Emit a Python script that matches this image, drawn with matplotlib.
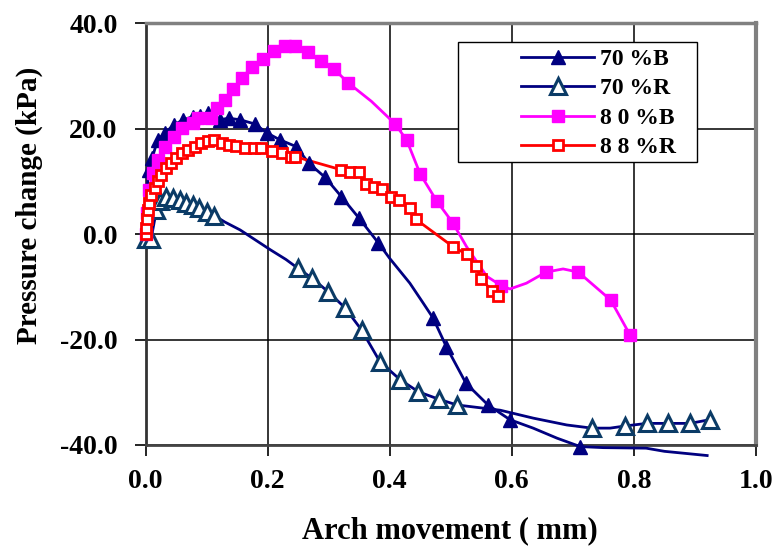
import numpy as np
import matplotlib
matplotlib.use("Agg")
import matplotlib.pyplot as plt
from matplotlib.patches import Rectangle

plt.rcParams['font.family'] = ['Liberation Serif', 'DejaVu Serif']
plt.rcParams['font.weight'] = 'bold'
plt.rcParams['axes.unicode_minus'] = False

# 70 %B : marker points and extra points on the drawn curve only
b70_x = [0.000, 0.006, 0.011, 0.020, 0.032, 0.046, 0.062, 0.078, 0.090, 0.103,
         0.122, 0.136, 0.155, 0.179, 0.199, 0.220, 0.247, 0.267, 0.294, 0.321,
         0.350, 0.381, 0.471, 0.493, 0.525, 0.561, 0.597, 0.712]
b70_y = [-0.8, 12.2, 14.5, 17.9, 19.2, 20.7, 21.7, 22.3, 22.5, 23.0,
         21.7, 22.0, 21.7, 20.9, 19.2, 17.9, 16.6, 13.5, 10.8, 7.1,
         3.0, -1.6, -15.9, -21.4, -28.3, -32.4, -35.2, -40.3]
b70_line_x = [0.001, 0.002, 0.400, 0.433, 0.455, 0.635, 0.674, 0.750, 0.820, 0.850, 0.920]
b70_line_y = [4.0, 8.4, -4.6, -9.3, -13.1, -36.8, -38.7, -40.5, -40.6, -41.2, -42.0]

# 70 %R
r70_x = [0.000, 0.009, 0.018, 0.023, 0.034, 0.045, 0.056, 0.067, 0.078, 0.088,
         0.100, 0.113, 0.250, 0.272, 0.299, 0.327, 0.354, 0.384, 0.417, 0.447,
         0.480, 0.510, 0.731, 0.785, 0.821, 0.856, 0.892, 0.924]
r70_y = [-1.0, -1.0, 4.6, 6.2, 7.1, 6.8, 6.4, 5.9, 5.6, 5.0,
         4.2, 3.5, -6.5, -8.3, -10.9, -14.0, -18.2, -24.2, -27.6, -29.9,
         -31.3, -32.4, -36.8, -36.4, -35.9, -35.9, -35.9, -35.2]
r70_line_x = [0.130, 0.155, 0.180, 0.205, 0.230, 0.581, 0.635, 0.690, 0.761]
r70_line_y = [2.3, 0.8, -1.1, -3.0, -4.8, -33.4, -34.9, -36.2, -36.8]

# 80 %B
b80_x = [0.000, 0.002, 0.005, 0.013, 0.021, 0.032, 0.046, 0.059, 0.078, 0.086,
         0.108, 0.117, 0.131, 0.144, 0.158, 0.175, 0.193, 0.211, 0.229, 0.245,
         0.266, 0.287, 0.309, 0.332, 0.409, 0.428, 0.450, 0.477, 0.503, 0.583,
         0.656, 0.709, 0.762, 0.794]
b80_y = [0.0, 4.0, 8.4, 11.6, 14.1, 16.6, 18.5, 20.1, 21.1, 22.0,
         22.0, 23.9, 25.5, 27.5, 29.7, 31.7, 33.3, 34.8, 35.6, 35.6,
         34.5, 32.9, 31.3, 28.7, 20.9, 17.8, 11.4, 6.3, 2.2, -9.8,
         -7.2, -7.2, -12.5, -19.2]
b80_line_x = [0.370, 0.526, 0.559, 0.597, 0.624, 0.684]
b80_line_y = [25.2, -2.4, -8.0, -10.4, -9.3, -6.6]

# 88 %R
r88_x = [0.000, 0.001, 0.002, 0.004, 0.006, 0.0095, 0.015, 0.020, 0.026, 0.034,
         0.042, 0.050, 0.059, 0.070, 0.081, 0.091, 0.102, 0.113, 0.125, 0.136,
         0.149, 0.163, 0.177, 0.190, 0.207, 0.223, 0.239, 0.245, 0.321, 0.335,
         0.349, 0.361, 0.374, 0.388, 0.402, 0.416, 0.433, 0.443, 0.504, 0.526,
         0.541, 0.550, 0.567, 0.577]
r88_y = [0.0, 1.2, 2.9, 4.6, 5.9, 7.5, 8.7, 10.0, 11.2, 12.5,
         13.5, 14.4, 15.4, 16.0, 16.6, 17.3, 17.6, 17.8, 17.3, 16.9,
         16.8, 16.3, 16.3, 16.3, 15.7, 15.4, 14.7, 14.7, 12.2, 11.8,
         11.8, 9.5, 8.9, 8.5, 7.1, 6.4, 5.0, 2.8, -2.4, -3.8,
         -6.0, -8.5, -10.7, -11.7]
r88_line_x = []
r88_line_y = []


def curve(mx, my, lx, ly):
    x = np.concatenate([mx, lx])
    y = np.concatenate([my, ly])
    order = np.argsort(x, kind='stable')
    return x[order], y[order]


fig = plt.figure(figsize=(7.77, 5.46), dpi=100)
ax = fig.add_axes([145.5 / 777, 1 - 445 / 546, 610.5 / 777, 421.7 / 546])

series = [
    ("70 %B", b70_x, b70_y, b70_line_x, b70_line_y, '#000080',
     dict(marker='^', ms=10, mfc='#000080', mec='#000080', mew=1), False),
    ("70 %R", r70_x, r70_y, r70_line_x, r70_line_y, '#000080',
     dict(marker='^', ms=11, mfc='white', mec='#0b3b66', mew=2.2), True),
    ("8 0 %B", b80_x, b80_y, b80_line_x, b80_line_y, '#ff00ff',
     dict(marker='s', ms=8, mfc='#ff00ff', mec='#ff00ff', mew=1), True),
    ("8 8 %R", r88_x, r88_y, r88_line_x, r88_line_y, '#ff0000',
     dict(marker='s', ms=7, mfc='white', mec='#ff0000', mew=2), True),
]

handles = []
for label, mx, my, lx, ly, col, mk, clip in series:
    cx, cy = curve(mx, my, lx, ly)
    ax.plot(cx, cy, color=col, lw=2, clip_on=clip, zorder=3)
    ax.plot(mx, my, ls='none', zorder=4, clip_on=False, **mk)
    h, = ax.plot([], [], color=col, lw=2, **mk)
    h.set_label(label)
    handles.append(h)

ax.set_xlim(0, 1.0)
ax.set_ylim(-40, 40)
ax.set_xticks(np.arange(0, 1.01, 0.2))
ax.set_yticks(np.arange(-40, 41, 20))
ax.xaxis.set_major_formatter(matplotlib.ticker.FormatStrFormatter('%.1f'))
ax.yaxis.set_major_formatter(matplotlib.ticker.FormatStrFormatter('%.1f'))
ax.tick_params(axis='both', direction='out', length=8, width=1.2, colors='black',
               labelsize=20)
ax.tick_params(axis='y', pad=12)
ax.tick_params(axis='x', pad=9)
ax.grid(True, color='black', lw=1.1)
ax.set_axisbelow(True)

for side, col, lw in [('left', '#333333', 2), ('bottom', '#444444', 2),
                      ('top', '#808080', 2.5), ('right', '#808080', 3)]:
    ax.spines[side].set_color(col)
    ax.spines[side].set_linewidth(lw)

ax.set_xlabel('Arch movement ( mm)', fontsize=22, fontweight='bold')
ax.set_ylabel('Pressure change (kPa)', fontsize=21, fontweight='bold')
ax.xaxis.set_label_coords(0.498, -0.17)
ax.yaxis.set_label_coords(-0.168, 0.569)

# legend box
ax.add_patch(Rectangle((0.512, 0.671), 0.391, 0.285, transform=ax.transAxes,
                       facecolor='white', edgecolor='black', lw=1, zorder=5))
leg = ax.legend(handles=handles, loc='upper left', bbox_to_anchor=(0.615, 0.94),
                frameon=False, fontsize=17, handlelength=3.1, handletextpad=0.25,
                labelspacing=0.33, borderpad=0, borderaxespad=0)
leg.set_zorder(6)
for t in leg.get_texts():
    t.set_fontweight('bold')

fig.savefig('out.png', dpi=100, facecolor='white')
